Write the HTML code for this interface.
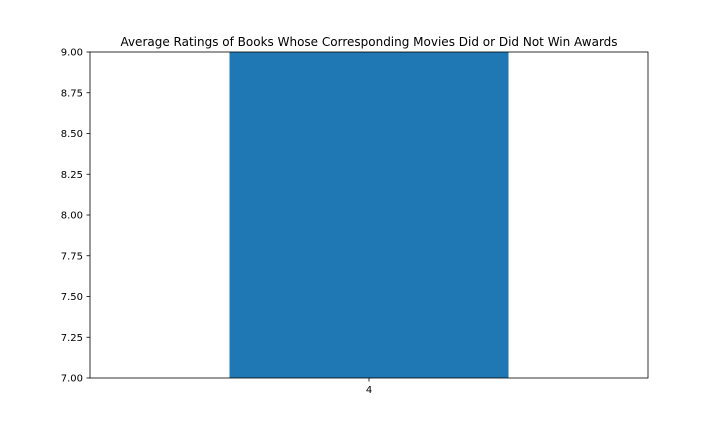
<!DOCTYPE html>
<html>
<head>
<meta charset="utf-8">
<style>
  html, body { margin: 0; padding: 0; background: #fff; }
  svg { display: block; font-family: "DejaVu Sans", "Liberation Sans", sans-serif; }
</style>
</head>
<body>
<svg id="chart" width="720" height="432" viewBox="0 0 720 432">
  <defs>
    <clipPath id="plotclip"><rect x="90" y="52" width="558" height="326"/></clipPath>
  </defs>
  <rect x="0" y="0" width="720" height="432" fill="#fff"/>
  <text x="369" y="46" text-anchor="middle" font-size="12" fill="#000">Average Ratings of Books Whose Corresponding Movies Did or Did Not Win Awards</text>
  <g id="bars" clip-path="url(#plotclip)"></g>
  <g id="yaxis"></g>
  <g id="xaxis"></g>
  <rect x="90" y="52" width="558" height="326" fill="none" stroke="#000" stroke-width="0.8"/>
</svg>
<script>
const categories = [4];
const values = [9.5];
const yTicks = [7.0, 7.25, 7.5, 7.75, 8.0, 8.25, 8.5, 8.75, 9.0];
const yTickLabels = ["7.00", "7.25", "7.50", "7.75", "8.00", "8.25", "8.50", "8.75", "9.00"];

const NS = "http://www.w3.org/2000/svg";
const L = 90, R = 648, T = 52, B = 378;
const yMin = 7, yMax = 9;
const barWidth = 0.8;
const xMin = Math.min(...categories) - 0.8, xMax = Math.max(...categories) + 0.8;
function yScale(v) { return B - (v - yMin) / (yMax - yMin) * (B - T); }
function xScale(v) { return L + (v - xMin) / (xMax - xMin) * (R - L); }

const barsG = document.getElementById('bars');
categories.forEach((c, i) => {
  const r = document.createElementNS(NS, 'rect');
  const x0 = xScale(c - barWidth / 2), x1 = xScale(c + barWidth / 2);
  const y0 = yScale(values[i]), yb = yScale(Math.max(yMin, 0));
  r.setAttribute('x', x0);
  r.setAttribute('width', x1 - x0);
  r.setAttribute('y', Math.min(y0, B));
  r.setAttribute('height', Math.max(0, B - y0));
  r.setAttribute('fill', '#1f77b4');
  
  
  barsG.appendChild(r);
});

const yG = document.getElementById('yaxis');
yTicks.forEach((t, i) => {
  const y = yScale(t);
  const ln = document.createElementNS(NS, 'line');
  ln.setAttribute('x1', L - 3.5); ln.setAttribute('x2', L);
  ln.setAttribute('y1', y); ln.setAttribute('y2', y);
  ln.setAttribute('stroke', '#000'); ln.setAttribute('stroke-width', '0.8');
  
  
  yG.appendChild(ln);
  const tx = document.createElementNS(NS, 'text');
  tx.setAttribute('x', L - 7); tx.setAttribute('y', y + 3.5);
  tx.setAttribute('text-anchor', 'end'); tx.setAttribute('font-size', '10');
  tx.textContent = yTickLabels[i];
  
  
  yG.appendChild(tx);
});

const xG = document.getElementById('xaxis');
categories.forEach(c => {
  const x = xScale(c);
  const ln = document.createElementNS(NS, 'line');
  ln.setAttribute('x1', x); ln.setAttribute('x2', x);
  ln.setAttribute('y1', B); ln.setAttribute('y2', B + 3.5);
  ln.setAttribute('stroke', '#000'); ln.setAttribute('stroke-width', '0.8');
  
  
  xG.appendChild(ln);
  const tx = document.createElementNS(NS, 'text');
  tx.setAttribute('x', x); tx.setAttribute('y', B + 15);
  tx.setAttribute('text-anchor', 'middle'); tx.setAttribute('font-size', '10');
  tx.textContent = String(c);
  
  
  xG.appendChild(tx);
});
</script>
</body>
</html>
